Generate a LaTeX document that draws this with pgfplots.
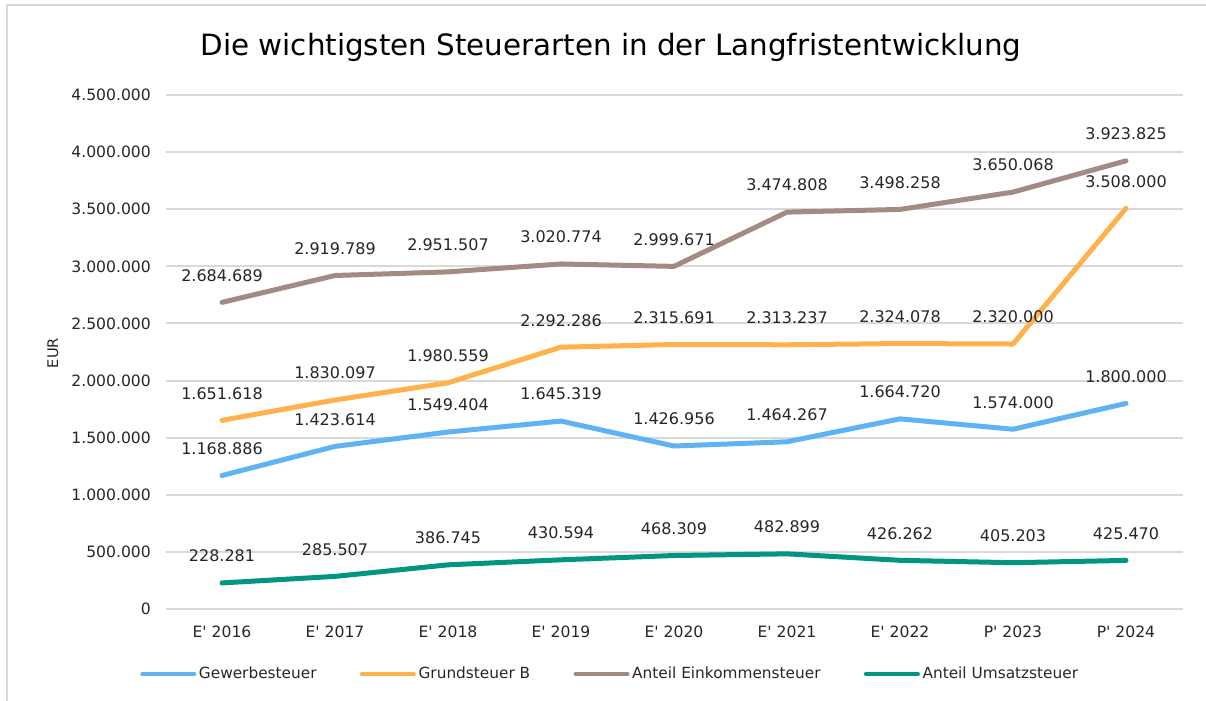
\documentclass[border=0pt]{standalone}
\usepackage{pgfplots}
\pgfplotsset{compat=1.18}
\usepackage{pgfplotstable}
\usepackage{fontspec}
\newfontfamily\vf{DejaVu Sans}
\definecolor{cblue}{RGB}{95,179,243}
\definecolor{corange}{RGB}{255,178,76}
\definecolor{cbrown}{RGB}{162,139,130}
\definecolor{cteal}{RGB}{0,150,128}
\definecolor{gridgray}{RGB}{217,217,217}
\definecolor{txt}{RGB}{38,38,38}

\pgfplotstableread{
x y label
0 1168886 1.168.886
1 1423614 1.423.614
2 1549404 1.549.404
3 1645319 1.645.319
4 1426956 1.426.956
5 1464267 1.464.267
6 1664720 1.664.720
7 1574000 1.574.000
8 1800000 1.800.000
}\gew
\pgfplotstableread{
x y label
0 1651618 1.651.618
1 1830097 1.830.097
2 1980559 1.980.559
3 2292286 2.292.286
4 2315691 2.315.691
5 2313237 2.313.237
6 2324078 2.324.078
7 2320000 2.320.000
8 3508000 3.508.000
}\grund
\pgfplotstableread{
x y label
0 2684689 2.684.689
1 2919789 2.919.789
2 2951507 2.951.507
3 3020774 3.020.774
4 2999671 2.999.671
5 3474808 3.474.808
6 3498258 3.498.258
7 3650068 3.650.068
8 3923825 3.923.825
}\eink
\pgfplotstableread{
x y label
0 228281 228.281
1 285507 285.507
2 386745 386.745
3 430594 430.594
4 468309 468.309
5 482899 482.899
6 426262 426.262
7 405203 405.203
8 425470 425.470
}\umsatz

\begin{document}
\begin{tikzpicture}
\useasboundingbox (0pt,0pt) rectangle (904.5pt,-525pt);
\draw[gridgray, line width=1.5pt] (5.25pt,-530pt) -- (5.25pt,-3.75pt) -- (910pt,-3.75pt);
\node[anchor=base, font=\vf\fontsize{22}{26}\selectfont, text=black] at (458.25pt,-41.25pt) {Die wichtigsten Steuerarten in der Langfristentwicklung};
\node[rotate=90, font=\vf\fontsize{11}{13}\selectfont, text=txt] at (39.75pt,-264.75pt) {EUR};
\begin{axis}[
  at={(124.125pt,-456.75pt)}, anchor=south west,
  scale only axis, width=762.75pt, height=385.5pt,
  xmin=-0.5, xmax=8.5, ymin=0, ymax=4500000,
  axis line style={draw=none},
  tick style={draw=none},
  major tick length=0pt,
  xtick={0,...,8},
  xticklabels={E' 2016,E' 2017,E' 2018,E' 2019,E' 2020,E' 2021,E' 2022,P' 2023,P' 2024},
  ytick={0,500000,1000000,1500000,2000000,2500000,3000000,3500000,4000000,4500000},
  yticklabels={0,500.000,1.000.000,1.500.000,2.000.000,2.500.000,3.000.000,3.500.000,4.000.000,4.500.000},
  ymajorgrids,
  major grid style={gridgray, line width=1.5pt},
  ticklabel style={font=\vf\fontsize{11.7}{14}\selectfont, text=txt},
  xticklabel style={anchor=north, yshift=-9pt},
  yticklabel style={anchor=east, xshift=-7.5pt},
  scaled y ticks=false,
  clip=false,
  nodes near coords,
  point meta=explicit symbolic,
  every node near coord/.append style={font=\vf\fontsize{12}{14}\selectfont, text=txt, anchor=center, yshift=20.25pt, inner sep=0pt},
  legend style={draw=none, fill=none, font=\vf\fontsize{11.5}{14}\selectfont, text=txt,
    at={(axis description cs:0.4376,-0.1265)}, anchor=center,
    legend columns=4, /tikz/every even column/.append style={column sep=30.5pt}},
  legend cell align=left,
  legend image code/.code={\draw[#1, line width=3pt, line cap=round] (0pt,0pt) -- (39pt,0pt);},
  every axis plot/.append style={line width=3.75pt, line cap=round, line join=round, mark=none},
]
\addplot[cblue] table[x=x, y=y, meta=label] {\gew};
\addlegendentry{Gewerbesteuer}
\addplot[corange] table[x=x, y=y, meta=label] {\grund};
\addlegendentry{Grundsteuer B}
\addplot[cbrown] table[x=x, y=y, meta=label] {\eink};
\addlegendentry{Anteil Einkommensteuer}
\addplot[cteal] table[x=x, y=y, meta=label] {\umsatz};
\addlegendentry{Anteil Umsatzsteuer}
\end{axis}
\end{tikzpicture}
\end{document}
